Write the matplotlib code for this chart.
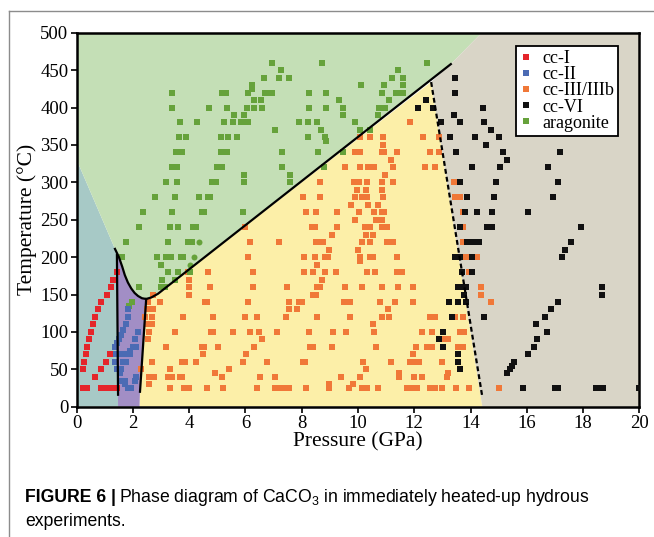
import numpy as np
import matplotlib
matplotlib.use('Agg')
import matplotlib.pyplot as plt
from matplotlib.patches import Polygon
from matplotlib.lines import Line2D

plt.rcParams['mathtext.fontset'] = 'custom'
plt.rcParams['mathtext.rm'] = 'Liberation Sans'

# --- data (pressure GPa per temperature row, degC) ---
cc1_rows = {
    25: [0.21, 0.29, 0.38, 0.85, 0.95, 1.05, 1.15, 1.25, 1.35, 1.45],
    40: [0.66], 50: [0.21, 0.88], 60: [0.26, 1.05], 70: [0.32, 1.17],
    80: [0.38], 90: [0.43], 100: [0.50], 110: [0.57], 120: [0.64],
    130: [0.74], 140: [0.88], 150: [1.07], 160: [1.22], 170: [1.30],
    180: [1.42],
}

cc2_rows = {
    25: [1.82, 1.94], 30: [1.70], 35: [1.60, 1.72, 2.08], 40: [2.11],
    45: [1.53], 50: [1.45, 1.58], 60: [1.37, 1.65, 1.76],
    70: [1.40, 1.60, 1.76, 1.88], 75: [1.90], 80: [1.36, 2.00, 2.12],
    85: [1.42], 90: [1.52, 2.06], 96: [1.58], 100: [2.18], 102: [1.66],
    110: [1.74], 120: [1.82], 130: [1.82],
}

cc3_rows = {
    25: [3.32, 3.82, 4.00, 4.62, 5.19, 6.40, 7.05, 7.22, 7.40, 7.56, 8.15,
         8.98, 9.69, 10.13, 10.31, 10.70, 11.73, 11.91, 12.08, 12.56, 12.74,
         12.98, 13.47, 13.96, 15.00],
    30: [2.58, 8.98, 9.81],
    40: [2.58, 2.75, 3.26, 3.38, 3.67, 3.76, 5.15, 6.53, 7.04, 9.38, 10.07,
         11.47, 11.99, 12.27, 13.18],
    45: [4.92, 11.47, 13.21],
    50: [2.28, 3.32, 5.42, 10.29],
    60: [2.66, 3.73, 3.85, 4.24, 5.90, 6.75, 8.03, 8.12, 10.17, 11.17, 11.85,
         12.03, 12.18, 13.00],
    70: [4.48, 6.02, 11.94],
    80: [3.17, 4.44, 4.53, 5.04, 6.31, 8.29, 8.41, 9.07, 10.64, 12.06, 12.44,
         12.62, 13.57, 13.72],
    90: [2.55, 6.60, 12.97, 13.21],
    100: [2.58, 3.49, 4.76, 4.85, 5.57, 6.16, 6.49, 7.12, 8.27, 9.10, 9.57,
          10.58, 12.27, 12.62, 13.63, 13.77],
    110: [2.49, 2.66, 10.52],
    120: [2.43, 2.66, 3.77, 4.85, 5.98, 6.40, 7.44, 8.56, 9.72, 10.84, 11.11,
          12.56, 12.74, 13.45, 13.74],
    130: [2.49, 2.72, 7.53, 7.82, 11.05],
    140: [2.55, 2.96, 4.56, 4.64, 6.10, 7.55, 7.92, 8.02, 9.50, 9.72, 10.78,
          11.31, 11.94, 14.72],
    150: [2.70, 4.00, 8.41, 8.51, 14.37],
    160: [4.00, 4.74, 6.25, 7.47, 8.53, 8.65, 9.54, 10.13, 10.84, 11.43,
          11.94, 14.37],
    170: [4.00, 8.72],
    180: [3.97, 4.68, 6.28, 8.08, 8.39, 8.83, 9.21, 10.31, 10.60, 11.37,
          11.55, 13.95],
    190: [8.53],
    195: [10.07],
    200: [6.10, 8.09, 8.47, 8.83, 8.94, 10.07, 10.43, 10.55, 11.37, 13.84,
          14.22],
    210: [8.96, 9.99],
    220: [6.16, 7.20, 8.51, 8.65, 8.77, 10.13, 10.43, 11.02, 11.23, 13.72],
    230: [9.07, 10.29, 10.52],
    240: [5.98, 8.35, 8.47, 9.27, 10.25, 10.43, 10.84, 11.02, 13.74],
    250: [9.89, 10.63, 10.84],
    260: [8.14, 8.50, 9.27, 10.05, 10.58, 10.84, 10.93, 13.74],
    270: [9.75, 10.35, 10.70],
    280: [8.06, 8.65, 9.89, 10.13, 10.31, 10.90, 13.45, 13.63],
    290: [9.95, 10.29, 10.84],
    300: [8.65, 9.86, 10.05, 10.33, 10.84, 11.23, 13.42],
    310: [10.97],
    320: [9.54, 10.07, 10.37, 10.58, 11.26, 12.38, 12.74],
    330: [11.17],
    340: [9.89, 10.07, 10.84, 10.93, 11.37, 12.56, 12.88],
    350: [10.90],
    360: [10.07, 10.43, 10.90, 12.32, 12.88],
    380: [11.85],
}

cc6_rows = {
    25: [15.85, 17.00, 17.12, 18.47, 18.60, 18.70, 19.99],
    45: [15.31], 50: [13.63, 15.40], 55: [15.47], 60: [13.57, 15.54],
    70: [13.57, 16.05], 80: [13.01, 16.24], 90: [12.89, 16.37],
    100: [13.01, 16.73], 110: [16.32], 120: [13.35, 14.48, 16.63],
    130: [16.86], 140: [13.25, 13.57, 13.84, 17.12], 150: [13.78, 18.69],
    160: [13.57, 13.69, 13.84, 18.69], 180: [13.71, 14.06],
    200: [13.45, 13.63, 14.04, 17.24], 210: [17.36],
    220: [13.86, 14.00, 14.15, 14.30, 17.57],
    240: [13.63, 14.57, 14.77, 17.93],
    260: [13.80, 14.22, 14.78, 16.06], 280: [13.88, 14.83, 16.92],
    300: [13.63, 14.91, 17.12], 320: [14.04, 15.05, 16.77], 330: [15.31],
    340: [13.48, 15.17, 17.18], 350: [14.55], 360: [13.26, 14.16, 15.00],
    370: [14.72], 380: [12.95, 13.64, 14.48], 390: [13.40],
    400: [12.12, 12.68, 14.46], 410: [12.40], 420: [13.46], 440: [13.46],
}

arag_rows = {
    135: [1.87], 140: [1.95], 160: [2.21, 3.00, 3.14], 170: [3.04, 3.49],
    180: [3.26, 3.61, 4.03], 190: [3.00],
    200: [1.62, 2.84, 3.17, 3.34, 3.70, 3.77],
    220: [1.74, 3.26, 3.94, 4.09], 240: [2.21, 3.32, 3.61, 4.15, 4.23],
    260: [2.35, 3.38, 4.47, 4.54, 5.90], 280: [2.78, 3.48, 4.35, 4.68, 4.74],
    300: [3.19, 3.55, 4.80, 4.94, 5.95, 7.58], 310: [5.95, 7.58],
    320: [3.38, 3.55, 4.98, 5.15, 7.30, 8.78],
    340: [3.52, 3.73, 5.12, 5.33, 7.30, 8.59, 9.46], 355: [8.88],
    360: [3.63, 3.89, 5.12, 5.38, 5.70, 8.23, 8.83],
    370: [7.05, 8.70, 10.07, 10.43],
    380: [3.68, 4.29, 5.22, 5.56, 5.83, 5.98, 6.10, 7.90, 8.23, 8.56, 9.89],
    390: [5.59, 5.96, 9.48, 10.70],
    400: [3.38, 4.72, 5.33, 6.04, 6.30, 6.60, 8.27, 8.86, 9.48, 10.76, 10.96],
    410: [6.30, 6.55, 9.31, 11.10],
    420: [3.38, 5.15, 5.29, 6.10, 6.70, 6.82, 6.93, 8.26, 8.86, 10.84, 11.35,
          11.47, 11.61],
    425: [6.22], 430: [6.22, 10.09, 10.91, 11.59],
    440: [6.65, 7.18, 7.56, 11.20, 11.59], 450: [7.26, 11.41],
    460: [6.93, 8.72, 12.45],
}
arag_circles_P = [4.36, 4.16, 4.03]
arag_circles_T = [220, 200, 190]

# phase boundaries
left_line_P, left_line_T = [1.47, 1.43], [16, 203]
curve_P = [1.36, 1.50, 1.62, 1.71, 1.82, 1.94, 2.06, 2.18, 2.32, 2.47, 2.65, 2.89, 13.3]
curve_T = [211, 200, 187, 176, 166, 158, 152, 148, 145, 144, 146, 151, 458]
mid_line_P, mid_line_T = [2.47, 2.25], [144, 20]
dash_P, dash_T = [12.6, 14.42], [434, 13]

labels = ['cc-I', 'cc-II', 'cc-III/IIIb', 'cc-VI', 'aragonite']
colors = ['#e4252b', '#4b6bb4', '#f07838', '#111111', '#66a23b']


def expand(rows):
    P, T = [], []
    for t, ps in rows.items():
        P += ps
        T += [t] * len(ps)
    return np.array(P), np.array(T)


serif = 'Liberation Serif'
fig = plt.figure(figsize=(6.54, 5.37), dpi=100)
W, H = 654, 537

# outer frame of the figure panel
fig.add_artist(Line2D([9 / W, 9 / W], [0, 1 - 11 / H], color='#8c8c8c', lw=1.0))
fig.add_artist(Line2D([9 / W, 1], [1 - 11 / H, 1 - 11 / H], color='#8c8c8c', lw=1.0))

ax = fig.add_axes([76.7 / W, 1 - 406.7 / H, 562.6 / W, 374 / H])
ax.set_xlim(0, 20)
ax.set_ylim(0, 500)

# background phase fields
tl = Polygon([(0, 0), (1.47, 0), (1.47, 16), (1.43, 203), (1.36, 211), (0, 330)],
             closed=True, fc='#a7c9c6', ec='none', zorder=0)
i_min = curve_P.index(2.47)
purple_pts = [(1.47, 0), (2.24, 0), (2.25, 20), (2.47, 144)]
purple_pts += [(p, t) for p, t in zip(curve_P[1:i_min][::-1], curve_T[1:i_min][::-1])]
purple_pts += [(1.43, 205)]
pu = Polygon(purple_pts, closed=True, fc='#a28ec5', ec='none', zorder=0)
yellow_pts = [(2.24, 0), (14.42, 0), (12.6, 434)]
yellow_pts += [(p, t) for p, t in zip(curve_P[i_min:-1][::-1], curve_T[i_min:-1][::-1])]
yellow_pts += [(2.25, 20)]
ye = Polygon(yellow_pts, closed=True, fc='#fcefa8', ec='none', zorder=0)
green_pts = [(0, 330), (0, 500), (14.4, 500), (13.3, 458)]
green_pts += [(p, t) for p, t in zip(curve_P[:-1][::-1], curve_T[:-1][::-1])]
gr = Polygon(green_pts, closed=True, fc='#c4dfb6', ec='none', zorder=0)
grey = Polygon([(14.42, 0), (20, 0), (20, 500), (14.4, 500), (13.3, 458), (12.6, 434)],
               closed=True, fc='#d9d5c7', ec='none', zorder=0)
for patch in (tl, pu, ye, gr, grey):
    ax.add_patch(patch)

# data points
ms = 4.8
for rows, c in zip([cc3_rows, cc6_rows, arag_rows, cc1_rows, cc2_rows],
                   [colors[2], colors[3], colors[4], colors[0], colors[1]]):
    P, T = expand(rows)
    ax.plot(P, T, ls='none', marker='s', ms=ms, mew=0, color=c, zorder=3)
ax.plot(arag_circles_P, arag_circles_T, ls='none', marker='o', ms=4.3, mew=0,
        color=colors[4], zorder=3)

# boundaries
ax.plot(left_line_P, left_line_T, color='k', lw=1.6, zorder=4)
ax.plot(curve_P, curve_T, color='k', lw=1.6, zorder=4)
ax.plot(mid_line_P, mid_line_T, color='k', lw=1.6, zorder=4)
ax.plot(dash_P, dash_T, color='k', lw=1.6, ls=(0, (2.2, 1.4)), zorder=4)

ax.set_xticks(np.arange(0, 21, 2))
ax.set_yticks(np.arange(0, 501, 50))
ax.tick_params(direction='out', length=4, width=1.2, labelsize=13.5, pad=2)
for lab in ax.get_xticklabels() + ax.get_yticklabels():
    lab.set_fontfamily(serif)
for s in ax.spines.values():
    s.set_linewidth(1.8)

ax.set_xlabel('Pressure (GPa)', fontsize=15.5, family=serif, labelpad=0)
ax.set_ylabel('Temperature (°C)', fontsize=15.5, family=serif, labelpad=2)

handles = [Line2D([], [], ls='none', marker='s', ms=5, mew=0, color=c) for c in colors]
leg = ax.legend(handles, labels, loc='upper right', bbox_to_anchor=(0.963, 0.965),
                borderaxespad=0, fancybox=False, framealpha=1, edgecolor='k',
                prop={'family': serif, 'size': 13}, handlelength=0.6,
                handletextpad=0.6, labelspacing=-0.05, borderpad=0.25)
leg.get_frame().set_linewidth(1.3)
leg.set_zorder(6)

# caption
cap_size = 12.7
t1 = fig.text(25 / W, 1 - 497 / H, 'FIGURE 6 |', fontsize=cap_size,
              family='Liberation Sans', weight='bold', va='center')
fig.canvas.draw()
bb = t1.get_window_extent()
fig.text((bb.x1 + 3) / W, 1 - 497 / H,
         r'Phase diagram of CaCO$_3$ in immediately heated-up hydrous',
         fontsize=cap_size, family='Liberation Sans', va='center')
fig.text(25 / W, 1 - 521 / H, 'experiments.', fontsize=cap_size,
         family='Liberation Sans', va='center')

fig.savefig('out.png', dpi=100)
